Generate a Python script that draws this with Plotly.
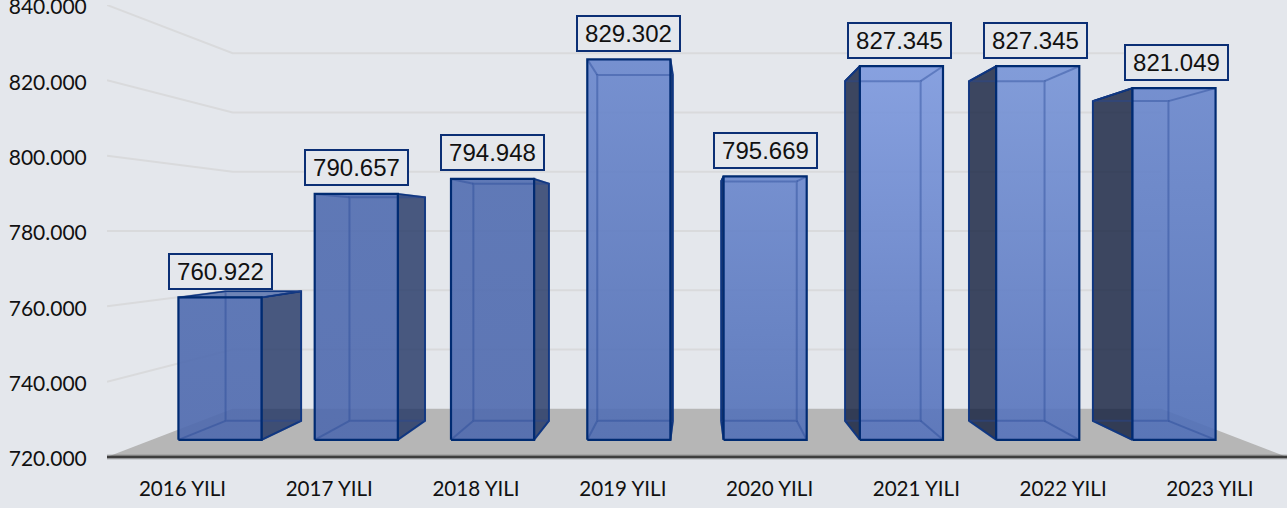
import plotly.graph_objects as go

# ---- data ----
years = ["2016 YILI", "2017 YILI", "2018 YILI", "2019 YILI",
         "2020 YILI", "2021 YILI", "2022 YILI", "2023 YILI"]
values = [760922, 790657, 794948, 829302, 795669, 827345, 827345, 821049]
y_ticks = [720000, 740000, 760000, 780000, 800000, 820000, 840000]

# ---- style ----
BG = (228, 231, 236)
NAVY = "#002B72"
INNER = "rgba(38,72,150,0.42)"
GRID = "#D9DADC"
FLOOR = "#B6B6B6"
top_colors = ["#5F78B6", "#5F78B6", "#6079B7", "#7691D0",
              "#7590CF", "#87A1DF", "#829CD9", "#7590CF"]
bottom_colors = ["#5D76B4", "#5D76B4", "#5D76B4", "#5F79B9",
                 "#617CBC", "#637EC0", "#637EC0", "#5F7BBC"]
label_xshift = [0.5, 0, 0, 0, 0, -1.5, -2, 2]
FRONT_ALPHA = 0.9
BAR_HALF = 0.305            # half width of a bar in category units
TICK_STEP, TICK_START = 0.995, 0.012

# perspective: scale factor by depth, vanishing at the centre of the axes
VX, VY = 3.5, 780000
S_WALL, S_FRONT, S_BACK = 0.787, 0.924, 0.84


def proj(x, v, s):
    return VX + (x - VX) * s, VY + (v - VY) * s


def poly(points, **kw):
    xs = [p[0] for p in points]
    ys = [p[1] for p in points]
    return go.Scatter(x=xs, y=ys, hoverinfo="skip", cliponaxis=False, **kw)


def through_alpha(hex_color, a=FRONT_ALPHA):
    rgb = [int(hex_color[i:i + 2], 16) for i in (1, 3, 5)]
    out = [max(0, min(255, round((c - (1 - a) * b) / a))) for c, b in zip(rgb, BG)]
    return f"rgba({out[0]},{out[1]},{out[2]},{a})"


fig = go.Figure()
x0, x1 = -0.5, 7.5
base = y_ticks[0]

# wall gridlines
for t in y_ticks[1:]:
    a = proj(x0, t, 1)
    b = proj(x0, t, S_WALL)
    c = proj(x1, t, S_WALL)
    fig.add_trace(poly([a, b, c], mode="lines", line=dict(color=GRID, width=2)))

# floor
fig.add_trace(poly([proj(x0, base, 1), proj(x0, base, S_WALL), proj(x1, base, S_WALL),
                    proj(x1, base, 1), proj(x0, base, 1)],
                   mode="lines", fill="toself", fillcolor=FLOOR, line=dict(width=0, color=FLOOR)))

# category axis line with its soft shadow
fig.add_shape(type="line", xref="paper", yref="paper", x0=0, x1=1, y0=0, y1=0,
              line=dict(color="rgba(90,90,90,0.35)", width=5))
fig.add_shape(type="line", xref="paper", yref="paper", x0=0, x1=1, y0=0, y1=0,
              line=dict(color="#3E3E3E", width=2.6))

# bars
for i, v in enumerate(values):
    l, r = i - BAR_HALF, i + BAR_HALF
    fl_b, fr_b, fr_t, fl_t = (proj(l, base, S_FRONT), proj(r, base, S_FRONT),
                              proj(r, v, S_FRONT), proj(l, v, S_FRONT))
    bl_b, br_b, br_t, bl_t = (proj(l, base, S_BACK), proj(r, base, S_BACK),
                              proj(r, v, S_BACK), proj(l, v, S_BACK))

    # outer side face
    if i < VX:
        side = [fr_b, br_b, br_t, fr_t, fr_b]
        side_fill = "rgba(33,52,100,0.8)"
    else:
        side = [fl_b, bl_b, bl_t, fl_t, fl_b]
        side_fill = "rgba(17,30,61,0.8)"
    fig.add_trace(poly(side, mode="lines", fill="toself", fillcolor=side_fill,
                       line=dict(color=NAVY, width=1.8)))

    # top face when it shows above the front
    if v < VY:
        fig.add_trace(poly([fl_t, fr_t, br_t, bl_t, fl_t], mode="lines", fill="toself",
                           fillcolor="rgba(60,90,160,0.7)", line=dict(color=NAVY, width=1.5)))
    elif i >= VX:
        fig.add_trace(poly([fl_t, bl_t], mode="lines", line=dict(color=NAVY, width=1.8)))

    # front face
    fig.add_trace(poly([fl_b, fr_b, fr_t, fl_t, fl_b], mode="lines", fill="toself",
                       fillgradient=dict(type="vertical", colorscale=[
                           [0, through_alpha(bottom_colors[i])],
                           [1, through_alpha(top_colors[i])]]),
                       line=dict(width=0, color=NAVY)))

    # edges seen through the front
    for seg in ([bl_b, br_b, br_t, bl_t, bl_b], [fl_b, bl_b], [fr_b, br_b], [fr_t, br_t], [fl_t, bl_t]):
        fig.add_trace(poly(seg, mode="lines", line=dict(color=INNER, width=2)))

    # front outline
    fig.add_trace(poly([fl_b, fr_b, fr_t, fl_t, fl_b], mode="lines",
                       line=dict(color=NAVY, width=2.2)))

    # value label
    fig.add_annotation(x=proj(i, v, S_FRONT)[0], y=proj(i, v, S_FRONT)[1], xref="x", yref="y",
                       yshift=26, xshift=label_xshift[i], showarrow=False,
                       text=f"{v:,}".replace(",", "."),
                       font=dict(family="Liberation Sans", size=24, color="#111111"),
                       bgcolor="#E4E7EC", bordercolor="#0B2F75", borderwidth=2,
                       width=101, height=33, borderpad=0, align="center", valign="middle")

fig.update_layout(
    width=1287, height=508,
    margin=dict(l=107, r=0, t=5, b=51),
    paper_bgcolor="#E4E7EC", plot_bgcolor="#E4E7EC",
    showlegend=False, separators=",.",
    font=dict(family="Lato", size=21, color="#111111"),
    xaxis=dict(range=[x0, x1], automargin=False,
               tickvals=[TICK_START + TICK_STEP * k for k in range(len(years))], ticktext=years,
               showgrid=False, zeroline=False, showline=False,
               ticks="outside", ticklen=13, tickcolor="rgba(0,0,0,0)",
               ticklabeloverflow="allow",
               tickfont=dict(family="Lato", size=20.6, color="#111111")),
    yaxis=dict(range=[base, y_ticks[-1]], automargin=False, tickvals=y_ticks, tickformat=",d",
               showgrid=False, zeroline=False, showline=False,
               ticks="outside", ticklen=15, tickcolor="rgba(0,0,0,0)",
               ticklabeloverflow="allow", ticklabelshift=2,
               tickfont=dict(family="Lato", size=21, color="#111111")),
)

fig.write_html("out.html", config={"displayModeBar": False},
               post_script="document.body.style.margin='0';document.body.style.background='#E4E7EC';")
